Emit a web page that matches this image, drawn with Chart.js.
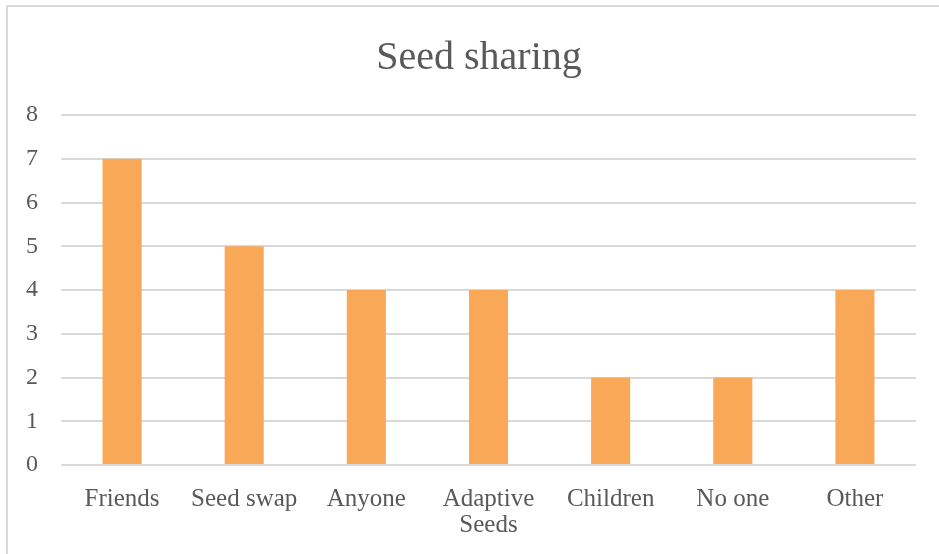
<!DOCTYPE html>
<html>
<head>
<meta charset="utf-8">
<script src="https://cdn.jsdelivr.net/npm/chart.js@4/dist/chart.umd.min.js"></script>
<style>
  html, body { margin: 0; padding: 0; background: #ffffff; }
  #wrap { position: relative; width: 939px; height: 554px; overflow: hidden; }
  #frame {
    position: absolute; left: 6px; top: 5px; width: 960px; height: 600px;
    border-left: 2px solid #d9d9d9; border-top: 2px solid #d9d9d9;
    pointer-events: none;
  }
  canvas { position: absolute; left: 0; top: 0; }
</style>
</head>
<body>
<div id="wrap">
  <canvas id="chart" width="939" height="554"></canvas>
  <div id="frame"></div>
</div>
<script>
// Who the seeds get shared with
const categories = ['Friends', 'Seed swap', 'Anyone', ['Adaptive', 'Seeds'], 'Children', 'No one', 'Other'];
const counts = [7, 5, 4, 4, 2, 2, 4];
const yTicks = [0, 1, 2, 3, 4, 5, 6, 7, 8];

const textColor = '#595959';
const gridColor = '#d9d9d9';
const serif = "'Liberation Serif', 'DejaVu Serif', serif";

new Chart(document.getElementById('chart'), {
  type: 'bar',
  data: {
    labels: categories,
    datasets: [{
      data: counts,
      backgroundColor: '#f9a857',
      borderWidth: 0,
      categoryPercentage: 1,
      barPercentage: 0.32
    }]
  },
  options: {
    responsive: false,
    animation: false,
    layout: { padding: { left: 19, right: 0, top: 0, bottom: 0 } },
    plugins: {
      legend: { display: false },
      tooltip: { enabled: false },
      title: {
        display: true,
        text: 'Seed sharing',
        color: textColor,
        font: { family: serif, size: 40, weight: 'normal' },
        padding: { top: 34, bottom: 33 }
      }
    },
    scales: {
      x: {
        grid: { display: false },
        border: { display: false },
        ticks: {
          color: textColor,
          font: { family: serif, size: 25, lineHeight: 1.04 },
          padding: 13,
          maxRotation: 0,
          autoSkip: false
        },
        afterFit: (s) => { s.height = 89; }
      },
      y: {
        min: 0,
        max: 8,
        afterBuildTicks: (s) => { s.ticks = yTicks.map(v => ({ value: v })); },
        grid: { color: gridColor, lineWidth: 2, drawTicks: false },
        border: { display: false },
        ticks: {
          color: textColor,
          font: { family: serif, size: 24 },
          padding: 23
        },
        afterFit: (s) => { s.width = 42; }
      },
      // empty right-hand margin of the plot
      yRight: {
        type: 'linear',
        position: 'right',
        min: 0,
        max: 8,
        grid: { display: false },
        border: { display: false },
        ticks: { display: false },
        afterFit: (s) => { s.width = 23; }
      }
    }
  }
});
</script>
</body>
</html>
